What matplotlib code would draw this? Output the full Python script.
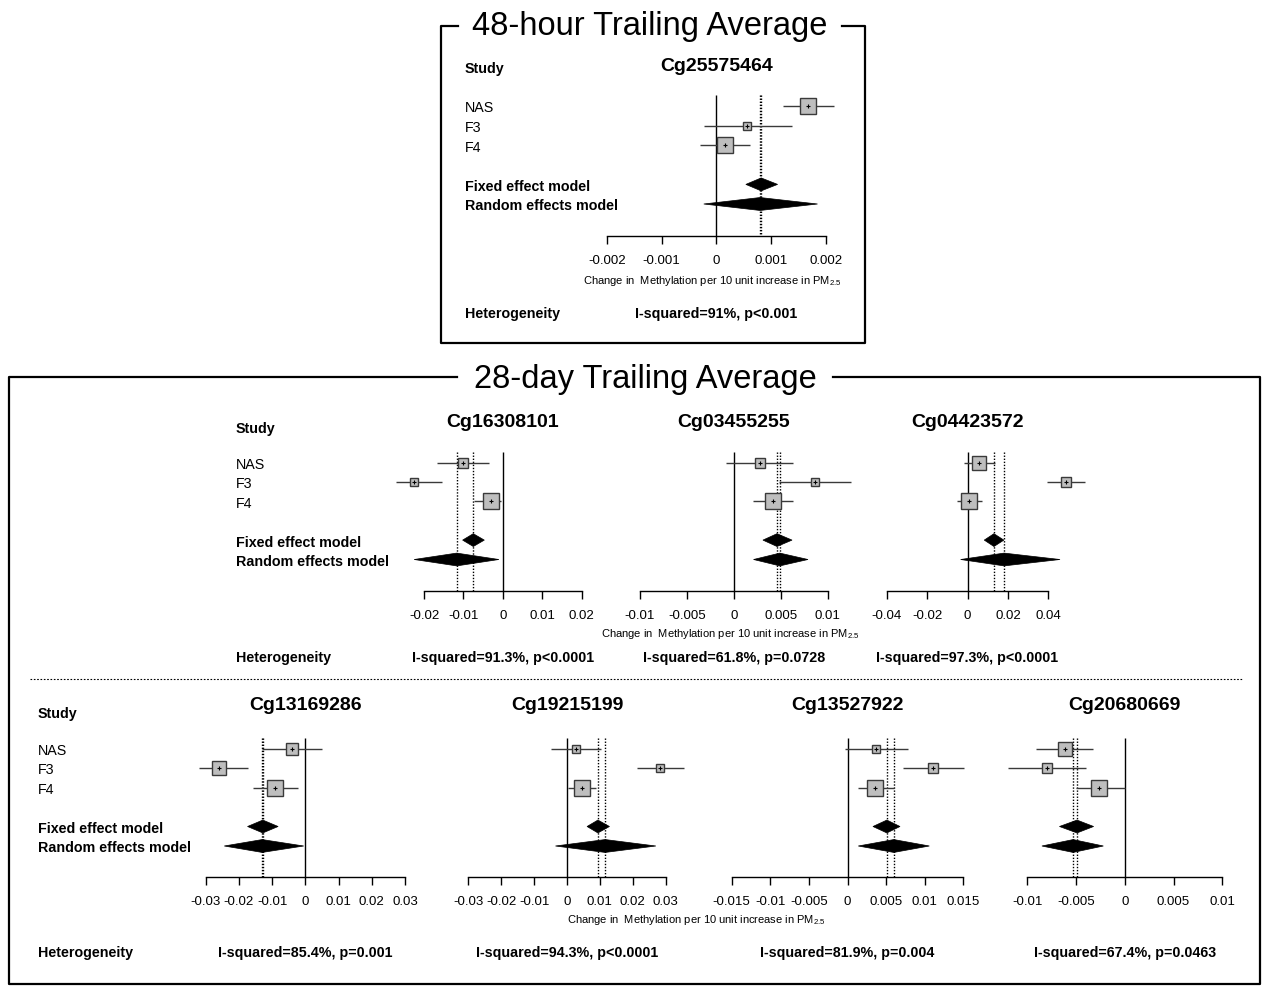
import matplotlib
matplotlib.use("Agg")
import matplotlib.pyplot as plt
import matplotlib.transforms as mtransforms
from matplotlib.lines import Line2D
from matplotlib.patches import Polygon
import numpy as np

W, H = 1263, 987

plt.rcParams["font.family"] = ["Liberation Sans", "DejaVu Sans"]
plt.rcParams["mathtext.default"] = "regular"

STUDIES = ["NAS", "F3", "F4"]
MODELS = ["Fixed effect model", "Random effects model"]
XLABEL = "Change in  Methylation per 10 unit increase in PM$_{2.5}$"

# 48-hour trailing average
cg25575464_est = [0.00168, 0.00056, 0.000165]
cg25575464_lo = [0.00122, -0.00023, -0.00029]
cg25575464_hi = [0.00215, 0.00138, 0.00061]
cg25575464_w = [40.9, 12.9, 46.2]
cg25575464_fixed = [0.00082, 0.00054, 0.00112]
cg25575464_random = [0.00080, -0.00023, 0.00185]
cg25575464_ticks = [-0.002, -0.001, 0, 0.001, 0.002]

# 28-day trailing average, first row
cg16308101_est = [-0.0102, -0.0226, -0.0031]
cg16308101_lo = [-0.0168, -0.0271, -0.0072]
cg16308101_hi = [-0.0036, -0.0154, -0.0004]
cg16308101_w = [22.8, 13.8, 63.4]
cg16308101_fixed = [-0.0075, -0.0102, -0.0047]
cg16308101_random = [-0.0117, -0.0225, -0.0010]
cg16308101_ticks = [-0.02, -0.01, 0, 0.01, 0.02]

cg03455255_est = [0.00276, 0.0086, 0.00413]
cg03455255_lo = [-0.00088, 0.0048, 0.00205]
cg03455255_hi = [0.0063, 0.01245, 0.0063]
cg03455255_w = [20.2, 16.0, 63.8]
cg03455255_fixed = [0.0046, 0.0031, 0.0062]
cg03455255_random = [0.0049, 0.0021, 0.0079]
cg03455255_ticks = [-0.01, -0.005, 0, 0.005, 0.01]

cg04423572_est = [0.0057, 0.0488, 0.0007]
cg04423572_lo = [-0.0017, 0.0395, -0.0054]
cg04423572_hi = [0.0136, 0.0582, 0.0070]
cg04423572_w = [32.2, 19.0, 48.8]
cg04423572_fixed = [0.0131, 0.0083, 0.0180]
cg04423572_random = [0.0181, -0.0034, 0.0458]
cg04423572_ticks = [-0.04, -0.02, 0, 0.02, 0.04]

# 28-day trailing average, second row
cg13169286_est = [-0.0040, -0.0261, -0.0090]
cg13169286_lo = [-0.0130, -0.0321, -0.0159]
cg13169286_hi = [0.0050, -0.0173, -0.0022]
cg13169286_w = [22.2, 31.0, 46.9]
cg13169286_fixed = [-0.0128, -0.0174, -0.0082]
cg13169286_random = [-0.0130, -0.0244, -0.0005]
cg13169286_ticks = [-0.03, -0.02, -0.01, 0, 0.01, 0.02, 0.03]

cg19215199_est = [0.0027, 0.0282, 0.0046]
cg19215199_lo = [-0.0049, 0.0213, 0.0002]
cg19215199_hi = [0.0104, 0.0355, 0.0088]
cg19215199_w = [16.7, 16.7, 66.7]
cg19215199_fixed = [0.0094, 0.0061, 0.0129]
cg19215199_random = [0.0116, -0.0035, 0.0270]
cg19215199_ticks = [-0.03, -0.02, -0.01, 0, 0.01, 0.02, 0.03]

cg13527922_est = [0.0037, 0.0111, 0.0036]
cg13527922_lo = [-0.0003, 0.0072, 0.0014]
cg13527922_hi = [0.0078, 0.0151, 0.0060]
cg13527922_w = [16.0, 20.2, 63.8]
cg13527922_fixed = [0.0051, 0.0033, 0.0068]
cg13527922_random = [0.0060, 0.0014, 0.0106]
cg13527922_ticks = [-0.015, -0.01, -0.005, 0, 0.005, 0.01, 0.015]

cg20680669_est = [-0.00615, -0.0080, -0.0026]
cg20680669_lo = [-0.0091, -0.0120, -0.0050]
cg20680669_hi = [-0.0033, -0.0040, 0.0]
cg20680669_w = [35.5, 18.1, 46.4]
cg20680669_fixed = [-0.0049, -0.0067, -0.0032]
cg20680669_random = [-0.0053, -0.0085, -0.0022]
cg20680669_ticks = [-0.01, -0.005, 0, 0.005, 0.01]

heterogeneity = {
    "Cg25575464": "I-squared=91%, p<0.001",
    "Cg16308101": "I-squared=91.3%, p<0.0001",
    "Cg03455255": "I-squared=61.8%, p=0.0728",
    "Cg04423572": "I-squared=97.3%, p<0.0001",
    "Cg13169286": "I-squared=85.4%, p=0.001",
    "Cg19215199": "I-squared=94.3%, p<0.0001",
    "Cg13527922": "I-squared=81.9%, p=0.004",
    "Cg20680669": "I-squared=67.4%, p=0.0463",
}

# pixel layout of the three blocks of forest plots
BLOCKS = {
    "top": dict(label_x=465, y0=107, step=19.6, ya=237, study_y=73, title_y=70.7,
                het_y=318, xlab_x=712, xlab_y=284),
    "row1": dict(label_x=236, y0=463.5, step=19.4, ya=592, study_y=433, title_y=426.7,
                 het_y=661.7, xlab_x=730, xlab_y=637.3),
    "row2": dict(label_x=38, y0=749.5, step=19.5, ya=878, study_y=718.3, title_y=710,
                 het_y=956.7, xlab_x=696, xlab_y=923.3),
}

PANELS = [
    ("Cg25575464", "top", 607, 825.7, cg25575464_est, cg25575464_lo, cg25575464_hi,
     cg25575464_w, cg25575464_fixed, cg25575464_random, cg25575464_ticks),
    ("Cg16308101", "row1", 424, 581.7, cg16308101_est, cg16308101_lo, cg16308101_hi,
     cg16308101_w, cg16308101_fixed, cg16308101_random, cg16308101_ticks),
    ("Cg03455255", "row1", 640, 827.7, cg03455255_est, cg03455255_lo, cg03455255_hi,
     cg03455255_w, cg03455255_fixed, cg03455255_random, cg03455255_ticks),
    ("Cg04423572", "row1", 886.7, 1048.3, cg04423572_est, cg04423572_lo, cg04423572_hi,
     cg04423572_w, cg04423572_fixed, cg04423572_random, cg04423572_ticks),
    ("Cg13169286", "row2", 205.7, 405, cg13169286_est, cg13169286_lo, cg13169286_hi,
     cg13169286_w, cg13169286_fixed, cg13169286_random, cg13169286_ticks),
    ("Cg19215199", "row2", 468.3, 665.7, cg19215199_est, cg19215199_lo, cg19215199_hi,
     cg19215199_w, cg19215199_fixed, cg19215199_random, cg19215199_ticks),
    ("Cg13527922", "row2", 731.7, 963.3, cg13527922_est, cg13527922_lo, cg13527922_hi,
     cg13527922_w, cg13527922_fixed, cg13527922_random, cg13527922_ticks),
    ("Cg20680669", "row2", 1027.3, 1222.3, cg20680669_est, cg20680669_lo, cg20680669_hi,
     cg20680669_w, cg20680669_fixed, cg20680669_random, cg20680669_ticks),
]

SQ_MAX = 12.2        # side of the heaviest square, points
LABEL_FS = 10.3
LINE_C = "#3a3a3a"


def fx(px):
    return px / W


def fy(py):
    return 1 - py / H


def fmt(t):
    t = round(t, 6)
    return "0" if abs(t) < 1e-12 else f"{t:g}"


fig = plt.figure(figsize=(W / 100, H / 100), dpi=100)
fig.patch.set_facecolor("white")


def forest(name, blk, x0, x1, est, lo, hi, w, fixed, rand, ticks):
    y0, step, ya = blk["y0"], blk["step"], blk["ya"]
    top = y0 - 0.6 * step
    ax = fig.add_axes([fx(x0), fy(ya), (x1 - x0) / W, (ya - top) / H])
    ybot = (ya - y0) / step
    ax.set_xlim(ticks[0], ticks[-1])
    ax.set_ylim(ybot, -0.6)
    ax.patch.set_visible(False)
    for s in ("top", "left", "right"):
        ax.spines[s].set_visible(False)
    ax.spines["bottom"].set_linewidth(1.0)
    ax.set_yticks([])
    ax.set_xticks(ticks)
    ax.set_xticklabels([fmt(t) for t in ticks])
    ax.tick_params(axis="x", length=6, width=1, pad=7, labelsize=9.5)

    # line of no effect and pooled estimates
    ax.vlines(0, -0.55, ybot, color="black", lw=1, clip_on=False)
    ax.vlines([fixed[0], rand[0]], -0.55, ybot, color="black", lw=1,
              linestyles=(0, (1, 1.2)), clip_on=False)

    rows = [0, 1, 2]
    ax.hlines(rows, lo, hi, color=LINE_C, lw=1, clip_on=False, zorder=2)
    wmax = max(w)
    for r, e, wt in zip(rows, est, w):
        ax.plot(e, r, marker="s", ms=SQ_MAX * np.sqrt(wt / wmax), mfc="#bebebe",
                mec=LINE_C, mew=1, clip_on=False, zorder=3)
        ax.plot(e, r, marker="+", ms=3.5, color="black", mew=0.8,
                clip_on=False, zorder=4)

    for r, (c, l, h) in zip((4, 5), (fixed, rand)):
        ax.add_patch(Polygon([(l, r), (c, r - 0.33), (h, r), (c, r + 0.33)],
                             closed=True, fc="black", ec="black", lw=0.5,
                             clip_on=False, zorder=3))

    trans = mtransforms.blended_transform_factory(ax.transData, fig.transFigure)
    ax.text(0, fy(blk["title_y"]), name, transform=trans, ha="center",
            va="baseline", fontsize=14, fontweight="bold")
    ax.text(0, fy(blk["het_y"]), heterogeneity[name], transform=trans,
            ha="center", va="baseline", fontsize=LABEL_FS, fontweight="bold")
    return ax


for p in PANELS:
    forest(p[0], BLOCKS[p[1]], *p[2:])

# study and model labels on the left of each block
for blk in BLOCKS.values():
    lx = fx(blk["label_x"])
    fig.text(lx, fy(blk["study_y"]), "Study", fontsize=LABEL_FS,
             fontweight="bold", va="baseline")
    for i, s in enumerate(STUDIES):
        fig.text(lx, fy(blk["y0"] + i * blk["step"] + 5.5), s,
                 fontsize=LABEL_FS, va="baseline")
    for i, m in enumerate(MODELS):
        fig.text(lx, fy(blk["y0"] + (4 + i) * blk["step"] + 5.5), m,
                 fontsize=LABEL_FS, fontweight="bold", va="baseline")
    fig.text(lx, fy(blk["het_y"]), "Heterogeneity", fontsize=LABEL_FS,
             fontweight="bold", va="baseline")
    fig.text(fx(blk["xlab_x"]), fy(blk["xlab_y"]), XLABEL, fontsize=8,
             ha="center", va="baseline")


def frame(x0, x1, y0, y1, gap0, gap1, title, title_y):
    kw = dict(color="black", lw=1.6, transform=fig.transFigure,
              solid_capstyle="projecting")
    fig.add_artist(Line2D([fx(gap0), fx(x0), fx(x0), fx(x1), fx(x1), fx(gap1)],
                          [fy(y0), fy(y0), fy(y1), fy(y1), fy(y0), fy(y0)], **kw))
    fig.text(fx((gap0 + gap1) / 2), fy(title_y), title, fontsize=23.5,
             ha="center", va="baseline")


frame(441, 865, 27, 344, 458, 842, "48-hour Trailing Average", 35)
frame(9, 1260, 378, 985, 457, 833, "28-day Trailing Average", 388)

# divider between the two rows of the 28-day block
fig.add_artist(Line2D([fx(30), fx(1242)], [fy(680), fy(680)], color="black",
                      lw=0.8, linestyle=(0, (1.5, 1.5)),
                      transform=fig.transFigure))

fig.savefig("out.png", dpi=100, facecolor="white")
